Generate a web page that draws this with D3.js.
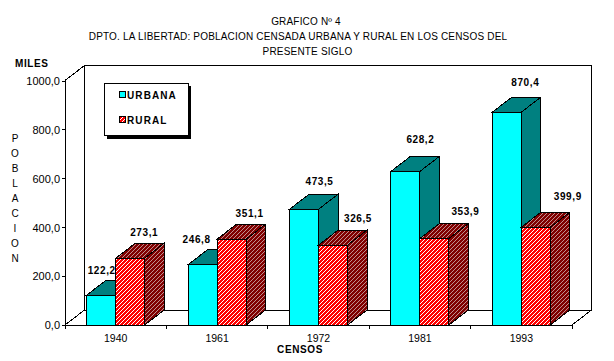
<!DOCTYPE html>
<html>
<head>
<meta charset="utf-8">
<script src="https://cdn.jsdelivr.net/npm/d3@7"></script>
<style>
  html, body { margin: 0; padding: 0; background: #fff; }
  svg { display: block; shape-rendering: crispEdges; }
  text { font-family: "Liberation Sans", Arial, sans-serif; fill: #000; }
  .bold { font-weight: 700; letter-spacing: 0.6px; }
</style>
</head>
<body>
<svg id="chart" width="614" height="361"></svg>
<script>
var censos = ['1940', '1961', '1972', '1981', '1993'];
var urbana = [122.2, 246.8, 473.5, 628.2, 870.4];
var rural = [273.1, 351.1, 326.5, 353.9, 399.9];
var yTicks = [0, 200, 400, 600, 800, 1000];
var titulos = ['GRAFICO Nº 4', 'DPTO. LA LIBERTAD: POBLACION CENSADA URBANA Y RURAL EN LOS CENSOS DEL', 'PRESENTE SIGLO'];
var ejeY = ['P', 'O', 'B', 'L', 'A', 'C', 'I', 'O', 'N'];

function fmt(v) { return v.toFixed(1).replace('.', ','); }

var svg = d3.select('#chart');
var xLeft = 65, xRight = 572, base = 325, yTop = 80.5;
var dx = 19.5, dy = 15; // 3d depth

var x = d3.scaleBand().domain(censos).range([xLeft, xRight]);
var y = d3.scaleLinear().domain([0, 1000]).range([base, yTop]);
var barW = 29;

// hatch fills, one pixel wide stairs like the original bitmap
var defs = svg.append('defs');
function hatch(id, bg, fg) {
  var p = defs.append('pattern').attr('id', id).attr('width', 4).attr('height', 4)
    .attr('patternUnits', 'userSpaceOnUse');
  p.append('rect').attr('width', 4).attr('height', 4).attr('fill', bg);
  p.append('path').attr('d', 'M3,0h1v1h-1zM2,1h1v1h-1zM1,2h1v1h-1zM0,3h1v1h-1z').attr('fill', fg);
}
hatch('hRed', '#ff0000', '#ffffff');
hatch('hDark', '#800000', '#c09090');

// walls
var frame = svg.append('g').attr('fill', 'none').attr('stroke', '#000');
frame.append('path').attr('d',
  'M' + xLeft + ',' + y(1000) + 'L' + (xLeft + dx) + ',' + (y(1000) - dy) +
  'H' + (xRight + dx) + 'V' + (base - dy) + 'H' + (xLeft + dx) + 'V' + (y(1000) - dy));
frame.append('path').attr('d',
  'M' + xLeft + ',' + base + 'L' + (xLeft + dx) + ',' + (base - dy) +
  'M' + xRight + ',' + base + 'L' + (xRight + dx) + ',' + (base - dy));

// bars, back to front within each group
function bar3d(g, bx, val, front, topc, side) {
  var h = y(val);
  g.append('path').attr('fill', side).attr('stroke', '#000')
    .attr('d', 'M' + (bx + barW) + ',' + h + 'l' + dx + ',' + (-dy) + 'V' + (base - dy) + 'L' + (bx + barW) + ',' + base + 'Z');
  g.append('path').attr('fill', topc).attr('stroke', '#000')
    .attr('d', 'M' + bx + ',' + h + 'l' + dx + ',' + (-dy) + 'h' + barW + 'l' + (-dx) + ',' + dy + 'Z');
  g.append('rect').attr('x', bx).attr('y', h).attr('width', barW).attr('height', base - h)
    .attr('fill', front).attr('stroke', '#000');
}
var bars = svg.append('g');
censos.forEach(function (c, i) {
  var mid = x(c) + x.bandwidth() / 2;
  bar3d(bars, mid - barW, urbana[i], '#00ffff', '#008080', '#008080');
  bar3d(bars, mid, rural[i], 'url(#hRed)', 'url(#hDark)', 'url(#hDark)');
});

// axes
var yAxis = d3.axisLeft(y).tickValues(yTicks).tickFormat(fmt).tickSize(3).tickPadding(2);
var gy = svg.append('g').attr('transform', 'translate(' + xLeft + ',0)').call(yAxis);
var xAxis = d3.axisBottom(x).tickSize(0).tickPadding(10);
var gx = svg.append('g').attr('transform', 'translate(0,' + base + ')').call(xAxis);
gx.selectAll('.cat').data(x.domain().concat('end')).enter().append('line')
  .attr('x1', function (d, i) { return xLeft + i * x.step(); })
  .attr('x2', function (d, i) { return xLeft + i * x.step(); })
  .attr('y1', 0).attr('y2', 4).attr('stroke', '#000');
svg.selectAll('.domain').attr('stroke', '#000');
svg.selectAll('.tick line').attr('stroke', '#000');
gy.selectAll('text').style('font-family', '"Liberation Sans", Arial, sans-serif').style('font-size', '11px').attr('dy', '0.35em');
gx.selectAll('text').style('font-family', '"Liberation Sans", Arial, sans-serif').style('font-size', '10.5px');

// value labels: hand placed in the original, so nudged one by one
var urbanaNudgeX = [0.5, -6, 15.5, 15, 18.5];
var ruralNudgeX = [14, 18, 25, 31, 32];
var urbanaNudgeY = [25, 25.5, 28, 32, 30];
var ruralNudgeY = [25.5, 26, 27, 27, 31];
var labels = svg.append('g').attr('text-anchor', 'middle').attr('font-size', 10).attr('class', 'bold');
censos.forEach(function (c, i) {
  var mid = x(c) + x.bandwidth() / 2;
  labels.append('text').attr('x', mid - barW / 2 + urbanaNudgeX[i]).attr('y', y(urbana[i]) - urbanaNudgeY[i] + 3.5).text(fmt(urbana[i]));
  labels.append('text').attr('x', mid + barW / 2 + ruralNudgeX[i]).attr('y', y(rural[i]) - ruralNudgeY[i] + 3.5).text(fmt(rural[i]));
});

// titles, the long line sits left of the other two in the original
var tituloX = [306, 298, 307.5];
svg.selectAll('.titulo').data(titulos).enter().append('text')
  .attr('x', function (d, i) { return tituloX[i]; })
  .attr('y', function (d, i) { return 25 + i * 15; })
  .attr('text-anchor', 'middle').attr('font-size', 10).style('letter-spacing', '0.18px').text(function (d) { return d; });

svg.append('text').attr('class', 'bold').attr('x', 15).attr('y', 67).attr('font-size', 10).text('MILES');
svg.append('text').attr('class', 'bold').attr('x', 300).attr('y', 353).attr('text-anchor', 'middle').attr('font-size', 10).text('CENSOS');
svg.selectAll('.ejey').data(ejeY).enter().append('text')
  .attr('x', 15).attr('y', function (d, i) { return 142 + i * 15; })
  .attr('text-anchor', 'middle').attr('font-size', 10).text(function (d) { return d; });

// legend
var lg = svg.append('g');
lg.append('rect').attr('x', 107).attr('y', 86).attr('width', 84).attr('height', 53).attr('fill', '#000');
lg.append('rect').attr('x', 104.5).attr('y', 83.5).attr('width', 84).attr('height', 52).attr('fill', '#fff').attr('stroke', '#000');
lg.append('rect').attr('x', 119.5).attr('y', 91.5).attr('width', 6).attr('height', 6).attr('fill', '#00ffff').attr('stroke', '#000');
lg.append('rect').attr('x', 119.5).attr('y', 116.5).attr('width', 6).attr('height', 6).attr('fill', 'url(#hRed)').attr('stroke', '#000');
lg.append('text').attr('class', 'bold').attr('x', 127).attr('y', 99).attr('font-size', 10).style('letter-spacing', '1.1px').text('URBANA');
lg.append('text').attr('class', 'bold').attr('x', 127).attr('y', 124).attr('font-size', 10).style('letter-spacing', '1.1px').text('RURAL');
</script>
</body>
</html>
